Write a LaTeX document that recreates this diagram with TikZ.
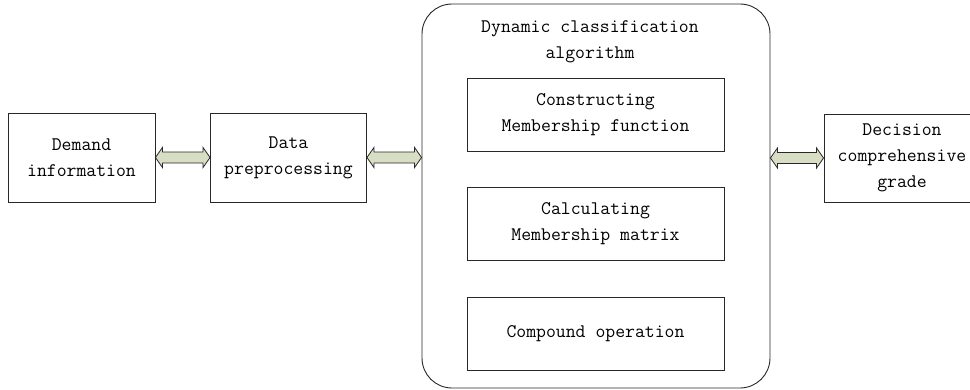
\documentclass[tikz,border=0pt]{standalone}
\usepackage{fontspec}
\usetikzlibrary{calc}
\definecolor{arrowfill}{RGB}{216,222,196}
\definecolor{edgegray}{RGB}{40,40,40}

% flat two-way arrow from point #1 to point #2 (same height)
\newcommand\twoway[2]{%
  \draw[bothway] (#1) -- ($(#1)+(7,-10)$) -- ($(#1)+(7,-5.5)$) -- ($(#2)+(-7,-5.5)$)
    -- ($(#2)+(-7,-10)$) -- (#2) -- ($(#2)+(-7,10)$) -- ($(#2)+(-7,5.5)$)
    -- ($(#1)+(7,5.5)$) -- ($(#1)+(7,10)$) -- cycle;}

\begin{document}
\begin{tikzpicture} [x=1pt, y=-1pt,
  blk/.style={rectangle, draw=edgegray, line width=0.9pt, align=center, inner sep=0,
              font=\ttfamily\fontsize{19.2}{26}\selectfont},
  bothway/.style={draw=edgegray, line width=0.8pt, fill=arrowfill, line join=miter}]
  \useasboundingbox (0,0) rectangle (970,389);
  \clip (0,0) rectangle (970,389);
  \fill[white] (0,0) rectangle (970,389);

  \draw (81.5,157.5) node[blk, minimum width=147, minimum height=89](dem) {Demand\\information};
  \draw (288.5,157.5) node[blk, minimum width=156, minimum height=89](pre) {Data\\preprocessing};
  \draw (596,196) node[blk, rounded corners=30, minimum width=348, minimum height=384](alg) {};
  \draw (590,42) node[blk, draw=none](ttl) {Dynamic classification\\algorithm};
  \draw (595.5,114.5) node[blk, minimum width=257, minimum height=73](mem) {Constructing\\Membership function};
  \draw (595.5,223.5) node[blk, minimum width=257, minimum height=73](mat) {Calculating\\Membership matrix};
  \draw (595.5,333.5) node[blk, minimum width=257, minimum height=73](cmp) {Compound operation};
  \draw (902,158) node[blk, minimum width=156, minimum height=88](dec) {Decision\\comprehensive\\grade};

  % two-way arrows between the blocks
  \twoway{dem.east}{pre.west}
  \twoway{pre.east}{alg.west |- pre.east}
  \twoway{alg.east |- dec.west}{dec.west}
\end{tikzpicture}
\end{document}
